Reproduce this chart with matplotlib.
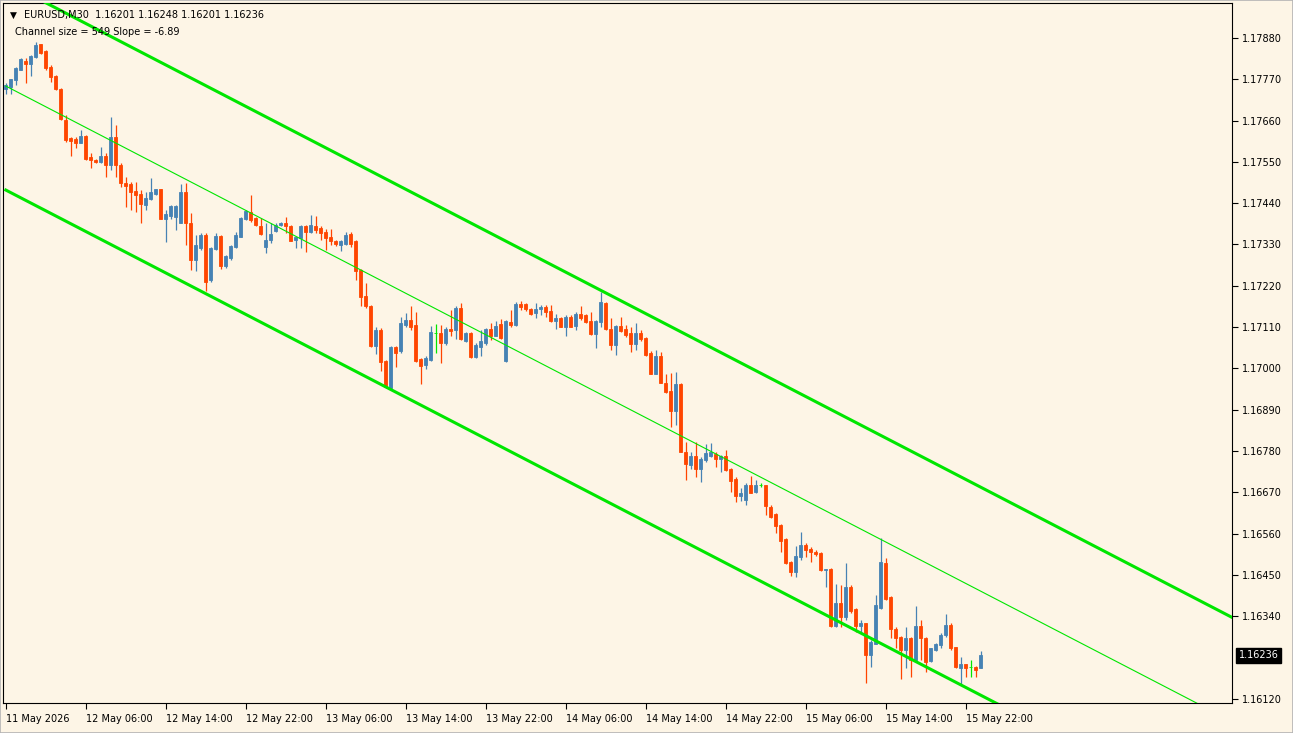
import matplotlib
matplotlib.use("Agg")
import matplotlib.pyplot as plt
import matplotlib.transforms as mtransforms
import numpy as np

# EURUSD M30 candles (oldest first)
open_ = [
    1.17743, 1.17750, 1.17768, 1.17796, 1.17818, 1.17812, 1.17830, 1.17863, 1.17845, 1.17803,
    1.17779, 1.17743, 1.17661, 1.17614, 1.17610, 1.17601, 1.17619, 1.17564, 1.17556, 1.17549,
    1.17565, 1.17541, 1.17615, 1.17543, 1.17495, 1.17490, 1.17473, 1.17464, 1.17435, 1.17450,
    1.17464, 1.17477, 1.17397, 1.17406, 1.17404, 1.17388, 1.17469, 1.17388, 1.17289, 1.17320,
    1.17355, 1.17236, 1.17317, 1.17353, 1.17273, 1.17293, 1.17324, 1.17351, 1.17397, 1.17416,
    1.17400, 1.17380, 1.17324, 1.17342, 1.17367, 1.17382, 1.17387, 1.17380, 1.17342, 1.17347,
    1.17378, 1.17364, 1.17380, 1.17373, 1.17364, 1.17349, 1.17340, 1.17329, 1.17331, 1.17357,
    1.17338, 1.17261, 1.17193, 1.17167, 1.17060, 1.17103, 1.17021, 1.16947, 1.17056, 1.17045,
    1.17116, 1.17129, 1.17116, 1.17024, 1.17009, 1.17023, 1.17094, 1.17094, 1.17067, 1.17104,
    1.17103, 1.17160, 1.17074, 1.17094, 1.17030, 1.17058, 1.17067, 1.17104, 1.17087, 1.17119,
    1.17021, 1.17124, 1.17116, 1.17171, 1.17171, 1.17157, 1.17148, 1.17157, 1.17164, 1.17153,
    1.17127, 1.17133, 1.17111, 1.17137, 1.17113, 1.17144, 1.17142, 1.17127, 1.17091, 1.17124,
    1.17175, 1.17104, 1.17062, 1.17112, 1.17104, 1.17093, 1.17064, 1.17095, 1.17081, 1.17040,
    1.16986, 1.17033, 1.16962, 1.16940, 1.16887, 1.16959, 1.16778, 1.16743, 1.16767, 1.16731,
    1.16756, 1.16767, 1.16772, 1.16758, 1.16767, 1.16731, 1.16705, 1.16659, 1.16650, 1.16690,
    1.16672, 1.16690, 1.16690, 1.16632, 1.16612, 1.16583, 1.16545, 1.16485, 1.16459, 1.16498,
    1.16530, 1.16518, 1.16512, 1.16509, 1.16464, 1.16467, 1.16314, 1.16374, 1.16339, 1.16418,
    1.16358, 1.16314, 1.16321, 1.16236, 1.16267, 1.16361, 1.16482, 1.16392, 1.16307, 1.16285,
    1.16250, 1.16283, 1.16223, 1.16314, 1.16283, 1.16221, 1.16251, 1.16263, 1.16290, 1.16316,
    1.16257, 1.16201, 1.16212, 1.16205, 1.16205, 1.16201,
]
high = [
    1.17761, 1.17772, 1.17802, 1.17826, 1.17826, 1.17834, 1.17870, 1.17865, 1.17848, 1.17808,
    1.17781, 1.17746, 1.17675, 1.17615, 1.17617, 1.17635, 1.17621, 1.17574, 1.17559, 1.17590,
    1.17574, 1.17670, 1.17648, 1.17546, 1.17510, 1.17497, 1.17497, 1.17475, 1.17470, 1.17508,
    1.17479, 1.17479, 1.17421, 1.17435, 1.17435, 1.17491, 1.17493, 1.17414, 1.17355, 1.17360,
    1.17360, 1.17324, 1.17360, 1.17355, 1.17302, 1.17329, 1.17364, 1.17403, 1.17422, 1.17462,
    1.17403, 1.17400, 1.17387, 1.17387, 1.17387, 1.17391, 1.17404, 1.17382, 1.17351, 1.17382,
    1.17382, 1.17409, 1.17406, 1.17378, 1.17371, 1.17371, 1.17342, 1.17342, 1.17364, 1.17364,
    1.17342, 1.17264, 1.17227, 1.17169, 1.17110, 1.17107, 1.17023, 1.17060, 1.17060, 1.17136,
    1.17147, 1.17167, 1.17151, 1.17027, 1.17032, 1.17113, 1.17119, 1.17116, 1.17111, 1.17156,
    1.17166, 1.17175, 1.17098, 1.17096, 1.17067, 1.17103, 1.17107, 1.17122, 1.17127, 1.17131,
    1.17129, 1.17155, 1.17178, 1.17179, 1.17175, 1.17160, 1.17173, 1.17168, 1.17168, 1.17168,
    1.17146, 1.17136, 1.17142, 1.17142, 1.17151, 1.17166, 1.17146, 1.17151, 1.17128, 1.17204,
    1.17177, 1.17133, 1.17115, 1.17137, 1.17115, 1.17111, 1.17120, 1.17102, 1.17084, 1.17047,
    1.17049, 1.17044, 1.16986, 1.16988, 1.16991, 1.16960, 1.16805, 1.16778, 1.16805, 1.16765,
    1.16799, 1.16800, 1.16778, 1.16770, 1.16783, 1.16734, 1.16712, 1.16681, 1.16694, 1.16714,
    1.16703, 1.16696, 1.16690, 1.16636, 1.16616, 1.16586, 1.16548, 1.16488, 1.16527, 1.16565,
    1.16534, 1.16525, 1.16515, 1.16512, 1.16467, 1.16469, 1.16427, 1.16423, 1.16481, 1.16423,
    1.16361, 1.16330, 1.16323, 1.16276, 1.16396, 1.16547, 1.16494, 1.16393, 1.16310, 1.16287,
    1.16312, 1.16285, 1.16367, 1.16331, 1.16285, 1.16256, 1.16269, 1.16294, 1.16346, 1.16321,
    1.16259, 1.16232, 1.16214, 1.16223, 1.16207, 1.16248,
]
low = [
    1.17732, 1.17731, 1.17754, 1.17794, 1.17759, 1.17778, 1.17828, 1.17837, 1.17796, 1.17763,
    1.17741, 1.17661, 1.17604, 1.17565, 1.17586, 1.17599, 1.17556, 1.17535, 1.17546, 1.17548,
    1.17510, 1.17528, 1.17510, 1.17484, 1.17430, 1.17421, 1.17417, 1.17386, 1.17421, 1.17448,
    1.17461, 1.17398, 1.17337, 1.17399, 1.17368, 1.17386, 1.17328, 1.17262, 1.17260, 1.17316,
    1.17205, 1.17231, 1.17315, 1.17264, 1.17267, 1.17289, 1.17320, 1.17349, 1.17395, 1.17391,
    1.17378, 1.17355, 1.17307, 1.17333, 1.17364, 1.17379, 1.17360, 1.17338, 1.17320, 1.17320,
    1.17311, 1.17360, 1.17360, 1.17342, 1.17316, 1.17329, 1.17326, 1.17314, 1.17329, 1.17324,
    1.17236, 1.17167, 1.17160, 1.17058, 1.17039, 1.16992, 1.16947, 1.16945, 1.17005, 1.17042,
    1.17111, 1.17103, 1.17018, 1.16959, 1.16998, 1.17021, 1.17040, 1.17014, 1.17063, 1.17085,
    1.17078, 1.17076, 1.17071, 1.17027, 1.17027, 1.17032, 1.17063, 1.17076, 1.17085, 1.17078,
    1.17018, 1.17111, 1.17113, 1.17155, 1.17153, 1.17142, 1.17133, 1.17142, 1.17137, 1.17124,
    1.17106, 1.17109, 1.17086, 1.17109, 1.17102, 1.17130, 1.17121, 1.17088, 1.17053, 1.17111,
    1.17102, 1.17049, 1.17035, 1.17097, 1.17084, 1.17044, 1.17049, 1.17073, 1.17033, 1.16985,
    1.16985, 1.16960, 1.16935, 1.16843, 1.16849, 1.16776, 1.16703, 1.16731, 1.16712, 1.16698,
    1.16752, 1.16764, 1.16737, 1.16725, 1.16728, 1.16672, 1.16645, 1.16648, 1.16636, 1.16667,
    1.16669, 1.16683, 1.16610, 1.16601, 1.16561, 1.16512, 1.16479, 1.16447, 1.16444, 1.16490,
    1.16497, 1.16485, 1.16499, 1.16461, 1.16418, 1.16312, 1.16312, 1.16312, 1.16330, 1.16349,
    1.16299, 1.16294, 1.16161, 1.16205, 1.16266, 1.16358, 1.16383, 1.16281, 1.16254, 1.16174,
    1.16201, 1.16179, 1.16219, 1.16223, 1.16192, 1.16219, 1.16248, 1.16254, 1.16285, 1.16251,
    1.16201, 1.16156, 1.16179, 1.16177, 1.16179, 1.16201,
]
close = [
    1.17755, 1.17770, 1.17799, 1.17823, 1.17812, 1.17832, 1.17861, 1.17841, 1.17799, 1.17777,
    1.17743, 1.17663, 1.17608, 1.17606, 1.17599, 1.17619, 1.17559, 1.17555, 1.17549, 1.17565,
    1.17541, 1.17615, 1.17541, 1.17493, 1.17486, 1.17470, 1.17463, 1.17437, 1.17453, 1.17469,
    1.17477, 1.17399, 1.17411, 1.17432, 1.17432, 1.17469, 1.17386, 1.17288, 1.17329, 1.17355,
    1.17231, 1.17320, 1.17353, 1.17273, 1.17300, 1.17326, 1.17355, 1.17400, 1.17418, 1.17394,
    1.17382, 1.17357, 1.17342, 1.17358, 1.17382, 1.17388, 1.17378, 1.17340, 1.17349, 1.17378,
    1.17364, 1.17382, 1.17369, 1.17360, 1.17347, 1.17338, 1.17331, 1.17340, 1.17355, 1.17331,
    1.17260, 1.17191, 1.17165, 1.17060, 1.17103, 1.17018, 1.16950, 1.17056, 1.17040, 1.17120,
    1.17129, 1.17110, 1.17021, 1.17007, 1.17027, 1.17098, 1.17094, 1.17067, 1.17104, 1.17100,
    1.17160, 1.17078, 1.17094, 1.17030, 1.17063, 1.17072, 1.17104, 1.17087, 1.17113, 1.17080,
    1.17125, 1.17115, 1.17172, 1.17164, 1.17157, 1.17146, 1.17157, 1.17164, 1.17151, 1.17127,
    1.17133, 1.17111, 1.17137, 1.17111, 1.17146, 1.17133, 1.17124, 1.17091, 1.17127, 1.17177,
    1.17104, 1.17062, 1.17112, 1.17100, 1.17088, 1.17064, 1.17093, 1.17077, 1.17035, 1.16986,
    1.17033, 1.16962, 1.16938, 1.16887, 1.16958, 1.16778, 1.16746, 1.16767, 1.16731, 1.16758,
    1.16774, 1.16776, 1.16758, 1.16767, 1.16730, 1.16699, 1.16659, 1.16667, 1.16690, 1.16669,
    1.16690, 1.16690, 1.16634, 1.16605, 1.16579, 1.16541, 1.16481, 1.16459, 1.16500, 1.16530,
    1.16515, 1.16512, 1.16506, 1.16463, 1.16466, 1.16314, 1.16374, 1.16339, 1.16418, 1.16354,
    1.16314, 1.16321, 1.16236, 1.16272, 1.16370, 1.16485, 1.16387, 1.16305, 1.16281, 1.16250,
    1.16281, 1.16223, 1.16314, 1.16281, 1.16219, 1.16254, 1.16267, 1.16290, 1.16316, 1.16254,
    1.16205, 1.16212, 1.16201, 1.16205, 1.16198, 1.16236,
]

# regression channel indicator (label values and the lines as drawn)
channel_size_label = 549
slope_label = -6.89
channel_mid_start = 1.17752   # middle line at the first bar
channel_slope = -0.0000690    # price per bar
channel_half = 0.00277        # distance of the outer lines from the middle

xtick_bars = [0, 16, 32, 48, 64, 80, 96, 112, 128, 144, 160, 176, 192]
xtick_labels = ["11 May 2026", "12 May 06:00", "12 May 14:00", "12 May 22:00",
                "13 May 06:00", "13 May 14:00", "13 May 22:00", "14 May 06:00",
                "14 May 14:00", "14 May 22:00", "15 May 06:00", "15 May 14:00",
                "15 May 22:00"]
ytick_values = [1.17880, 1.17770, 1.17660, 1.17550, 1.17440, 1.17330, 1.17220,
                1.17110, 1.17000, 1.16890, 1.16780, 1.16670, 1.16560, 1.16450,
                1.16340, 1.16120]

BG = "#fdf5e6"
UP = "#4682b4"
DOWN = "#ff4500"
LIME = "#00e600"

o = np.array(open_)
h = np.array(high)
l = np.array(low)
c = np.array(close)
idx = np.arange(len(c))
last = c[-1]

fig = plt.figure(figsize=(12.93, 7.33), dpi=100, facecolor=BG)
W, H = 1293, 733
ax = fig.add_axes([3 / W, (H - 703) / H, (1232 - 3) / W, (703 - 3) / H])
ax.set_facecolor(BG)

colors = np.where(c > o, UP, np.where(c < o, DOWN, LIME))
ax.vlines(idx, l, h, colors=colors, linewidth=0.9, zorder=2)
body = np.maximum(np.abs(c - o), 0.000004)
ax.bar(idx, body, bottom=np.minimum(o, c), width=0.55, color=colors,
       edgecolor=colors, linewidth=0.6, zorder=3)

# channel lines
xs = np.array([0, 260])
mid = channel_mid_start + channel_slope * xs
ax.plot(xs, mid, color=LIME, linewidth=0.8, zorder=4)
ax.plot(xs, mid + channel_half, color=LIME, linewidth=2.2, zorder=4)
ax.plot(xs, mid - channel_half, color=LIME, linewidth=2.2, zorder=4)

ax.set_xlim(-0.56, 245.24)
ax.set_ylim(1.161088, 1.179732)

ax.yaxis.tick_right()
ax.set_yticks(ytick_values)
ax.set_yticklabels([f"{v:.5f}" for v in ytick_values])
ax.set_xticks(xtick_bars)
ax.set_xticklabels(xtick_labels)
for lbl in ax.get_xticklabels():
    lbl.set_horizontalalignment("left")
ax.tick_params(axis="both", direction="out", length=4, width=0.8, color="black",
               labelsize=7, labelcolor="black")
ax.tick_params(axis="x", pad=4)
ax.tick_params(axis="y", pad=3)
for s in ax.spines.values():
    s.set_color("black")
    s.set_linewidth(0.8)

# current price box
trans = mtransforms.blended_transform_factory(ax.transAxes, ax.transData)
ax.text(1.0055, last, f"{last:.5f}", transform=trans, fontsize=7, color="white",
        va="center", ha="left",
        bbox=dict(boxstyle="square,pad=0.25", facecolor="black", edgecolor="black"))

# header texts
fig.text(10 / W, 1 - 15 / H, "▼", fontsize=6.5, va="center", ha="left")
fig.text(24 / W, 1 - 15 / H,
         f"EURUSD,M30  {o[-1]:.5f} {h[-1]:.5f} {l[-1]:.5f} {c[-1]:.5f}",
         fontsize=7, va="center", ha="left")
fig.text(15 / W, 1 - 32 / H,
         f"Channel size = {channel_size_label} Slope = {slope_label:.2f}",
         fontsize=7, va="center", ha="left")

# window frame
fig.patches.append(plt.Rectangle((0, 0), 1, 1, transform=fig.transFigure,
                                 fill=False, edgecolor="#b4b4b4", linewidth=1.2))

fig.savefig("out.png", dpi=100, facecolor=BG)
